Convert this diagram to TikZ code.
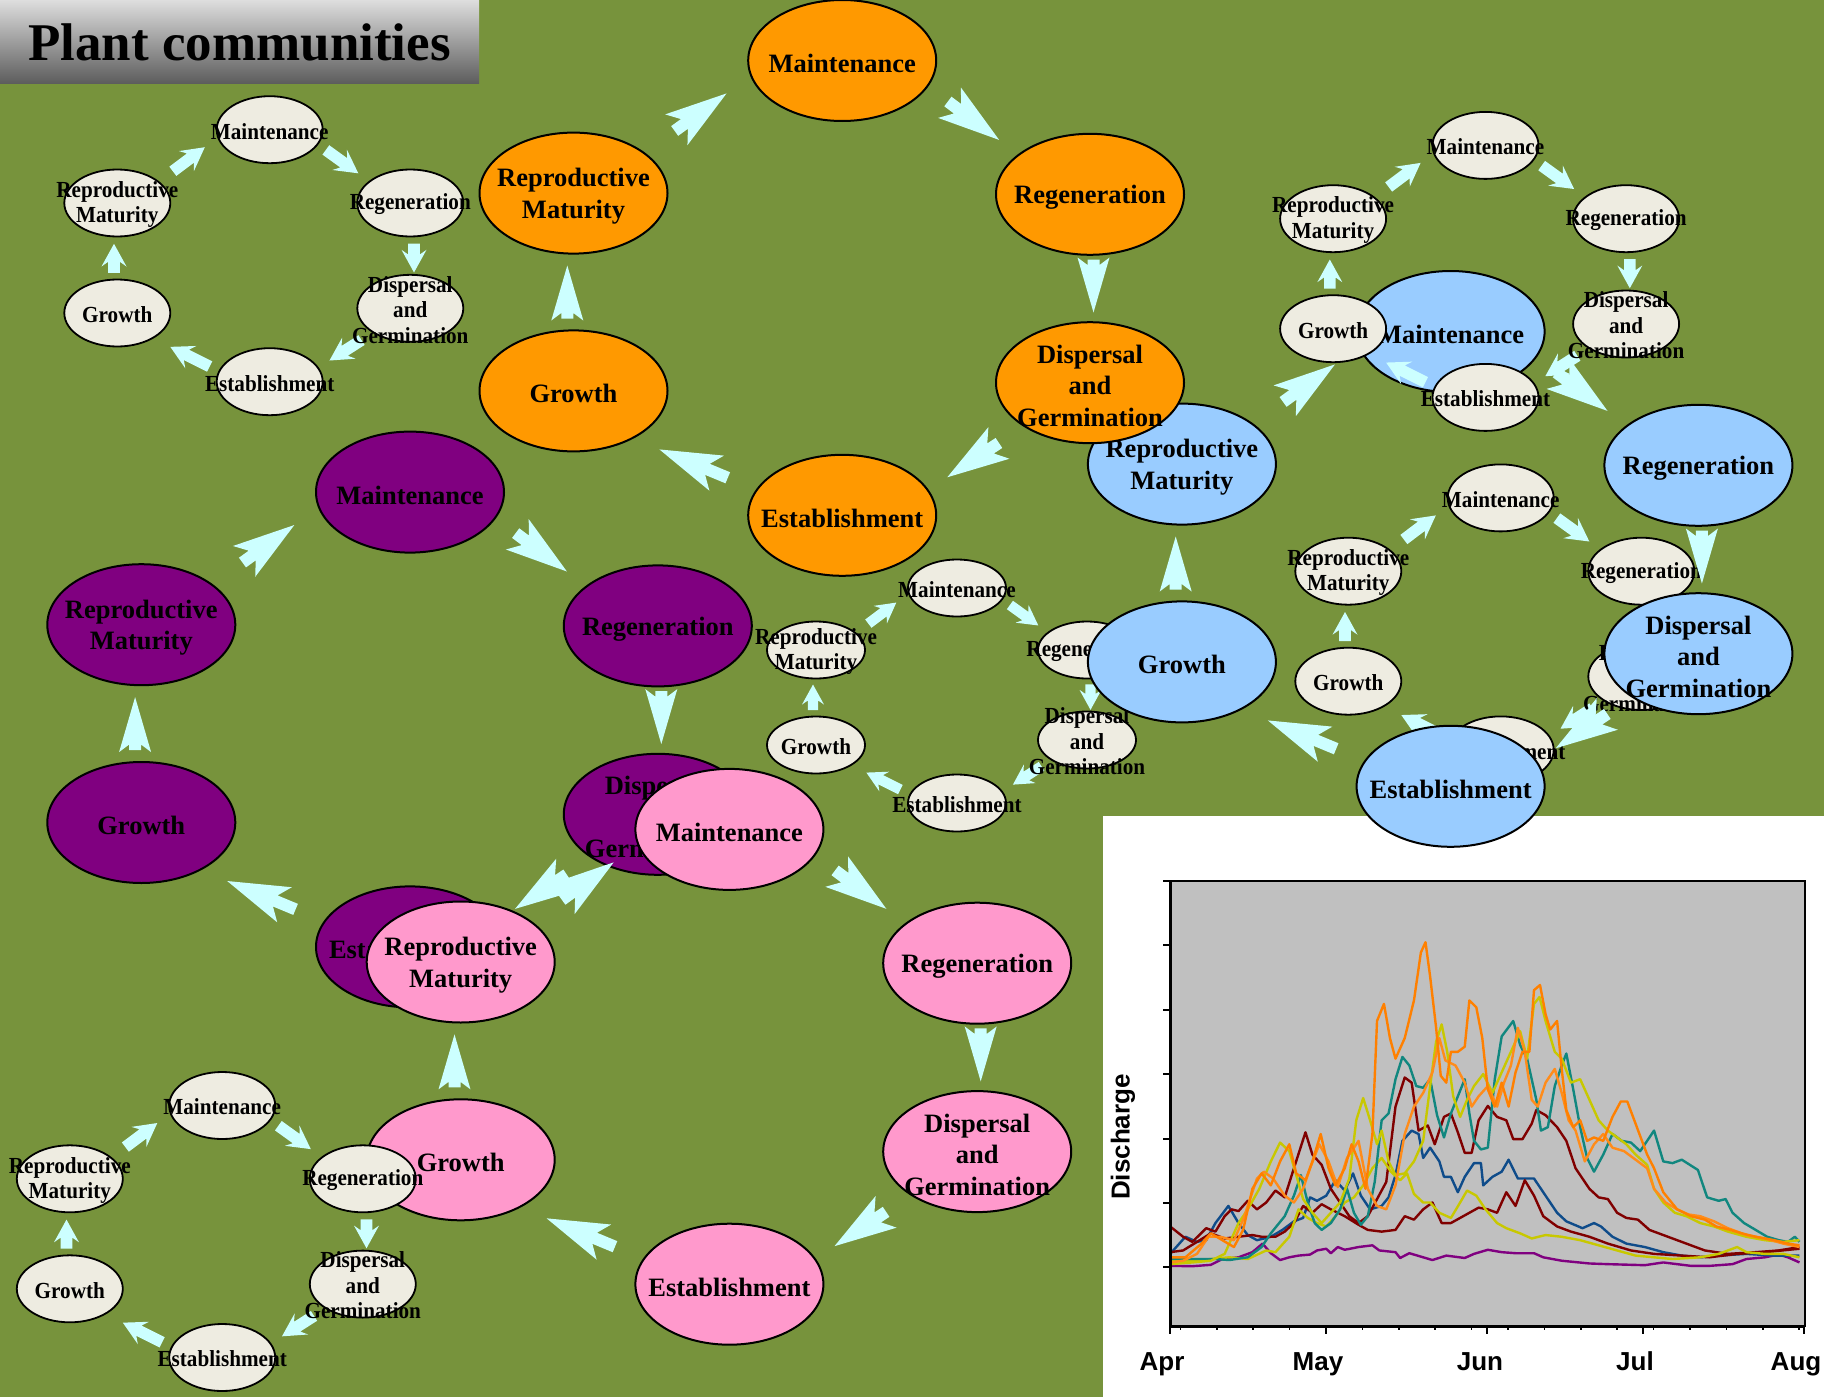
\documentclass[tikz,border=0pt]{standalone}
\usepackage{fontspec}
\setmainfont{Liberation Serif}
\newfontfamily\sfont{Liberation Serif}[FakeStretch=0.92]
\newfontfamily\chartfont{Liberation Sans}
\usetikzlibrary{shapes.geometric,decorations.markings}
\definecolor{bg}{HTML}{77933C}
\definecolor{cream}{HTML}{EEECE1}
\definecolor{arrowcol}{HTML}{CCFFFF}
\definecolor{orangeF}{HTML}{FF9900}
\definecolor{purpleF}{HTML}{800080}
\definecolor{pinkF}{HTML}{FF99CC}
\definecolor{blueF}{HTML}{99CCFF}
\definecolor{plotgray}{HTML}{C0C0C0}
\definecolor{cOrA}{HTML}{FF8000}
\definecolor{cOrB}{HTML}{FF8C1A}
\definecolor{cTeal}{HTML}{11877F}
\definecolor{cRed}{HTML}{800000}
\definecolor{cYel}{HTML}{C8C800}
\definecolor{cBlue}{HTML}{0F4C8A}
\definecolor{cPur}{HTML}{800080}

\tikzset{
  bigell/.style={ellipse, draw=black, line width=2pt, minimum width=188pt, minimum height=121pt, inner sep=0pt},
  bigtxt/.style={font={\fontsize{26.5}{31.5}\selectfont\bfseries}, align=center, inner sep=0pt, yshift=-3pt},
  sell/.style={ellipse, draw=black, line width=1.8pt, fill=cream, minimum width=106pt, minimum height=67pt, inner sep=0pt},
  mell/.style={sell, minimum width=98pt, minimum height=57pt},
  stxt/.style={font={\sfont\fontsize{23}{25.5}\selectfont\bfseries}, align=center, inner sep=0pt, yshift=-1.5pt},
  barr/.style n args={5}{decorate, decoration={markings, mark=at position 0.5 with {\fill[arrowcol] ({#4/2},0) -- ({#4/2-#1},#2) -- ({#4/2-#3},#5) -- ({-#4/2},#5) -- ({-#4/2},{-#5}) -- ({#4/2-#3},{-#5}) -- ({#4/2-#1},{-#2}) -- cycle;}}},
  bigD/.style={barr={62}{19}{52}{#1}{6}},
  bigV/.style={barr={55}{16}{47.5}{53}{6}},
  smD/.style={barr={23}{12.5}{18}{#1}{5.8}},
  smV/.style={barr={22.7}{12.5}{18}{29}{5.8}},
  midD/.style={barr={20}{11}{16}{#1}{5.2}},
  midV/.style={barr={20}{11}{16}{25.5}{5.2}},
  curve/.style={line width=2.4pt, line join=round},
  lbl/.style={font={\chartfont\bfseries\fontsize{26}{30}\selectfont}, inner sep=0pt}
}

\newcommand{\bigcycle}[4]{%
 \node[bigell, fill=#4] (#1m) at (#2,#3) {};
 \node[bigell, fill=#4] (#1r) at ({#2+247.8},{#3+133.8}) {};
 \node[bigell, fill=#4] (#1d) at ({#2+247.8},{#3+322.2}) {};
 \node[bigell, fill=#4] (#1e) at (#2,{#3+454.8}) {};
 \node[bigell, fill=#4] (#1g) at ({#2-268.7},{#3+330.4}) {};
 \node[bigell, fill=#4] (#1p) at ({#2-268.7},{#3+132.6}) {};
 \path[bigD=64] ([shift={(62.3,-34)}]#1p.center) -- ([shift={(-76.8,4.8)}]#1m.center);
 \path[bigD=64] ([shift={(67.3,12.2)}]#1m.center) -- ([shift={(-52.5,-25.6)}]#1r.center);
 \path[bigV] ([shift={(3.5,11.7)}]#1r.center) -- ([shift={(3.5,-16.7)}]#1d.center);
 \path[bigD=62] ([shift={(-50.3,33.1)}]#1d.center) -- ([shift={(64.3,-10.9)}]#1e.center);
 \path[bigD=74] ([shift={(-74.8,-21.1)}]#1e.center) -- ([shift={(46.3,42.1)}]#1g.center);
 \path[bigV] ([shift={(-6.2,-18.9)}]#1g.center) -- ([shift={(-6.2,18.9)}]#1p.center);
 \node[bigtxt] (#1mt) at (#1m) {Maintenance};
 \node[bigtxt] (#1rt) at (#1r) {Regeneration};
 \node[bigtxt] (#1dt) at (#1d) {Dispersal\\and\\Germination};
 \node[bigtxt] (#1et) at (#1e) {Establishment};
 \node[bigtxt] (#1gt) at (#1g) {Growth};
 \node[bigtxt] (#1pt) at (#1p) {Reproductive\\Maturity};
}

\newcommand{\smallcycle}[3]{%
 \node[sell] (#1m) at (#2,#3) {};
 \node[sell] (#1r) at ({#2+140.6},{#3+73.3}) {};
 \node[sell] (#1d) at ({#2+140.6},{#3+178.6}) {};
 \node[sell] (#1e) at (#2,{#3+252}) {};
 \node[sell] (#1g) at ({#2-152.4},{#3+183.3}) {};
 \node[sell] (#1p) at ({#2-152.4},{#3+73.3}) {};
 \path[smD=40] ([shift={(23.7,-7.7)}]#1p.center) -- ([shift={(-32.9,-6.6)}]#1m.center);
 \path[smD=40] ([shift={(23.8,-3.1)}]#1m.center) -- ([shift={(-19.4,-6.2)}]#1r.center);
 \path[smV] ([shift={(3.7,-5)}]#1r.center) -- ([shift={(3.7,9.7)}]#1d.center);
 \path[smD=38] ([shift={(-14.2,9.7)}]#1d.center) -- ([shift={(25.2,0.9)}]#1e.center);
 \path[smD=44] ([shift={(-26.1,1.8)}]#1e.center) -- ([shift={(19.1,16.9)}]#1g.center);
 \path[smV] ([shift={(-3.3,5.3)}]#1g.center) -- ([shift={(-3.3,-4.7)}]#1p.center);
 \node[stxt] (#1mt) at (#1m) {Maintenance};
 \node[stxt] (#1rt) at (#1r) {Regeneration};
 \node[stxt] (#1dt) at (#1d) {Dispersal\\and\\Germination};
 \node[stxt] (#1et) at (#1e) {Establishment};
 \node[stxt] (#1gt) at (#1g) {Growth};
 \node[stxt] (#1pt) at (#1p) {Reproductive\\Maturity};
}

\begin{document}
\begin{tikzpicture}[x=1pt,y=-1pt]
\useasboundingbox (0,0) rectangle (1824,1397);
\fill[bg] (0,0) rectangle (1824,1397);

% title
\shade[top color=black!13, middle color=black!26, bottom color=black!64] (0,0) rectangle (479,84);
\node[font={\fontsize{53}{60}\selectfont\bfseries}, inner sep=0pt] (title) at (239.5,42) {Plant communities};

% chart panel
\fill[white] (1103,816) rectangle (1824,1397);
\fill[plotgray] (1170,881) rectangle (1805,1326);
\begin{scope}
\clip (1170,881) rectangle (1805,1326);
\begin{scope}[shift={(1100,860)}, xscale=0.4617, yscale=0.3425]
\draw[curve, cPur] plot coordinates {(152,1185) (200,1186) (240,1182) (265,1165) (300,1160) (330,1145) (352,1120) (370,1148) (390,1168) (410,1160) (430,1155) (455,1152) (470,1140) (490,1135) (500,1148) (515,1130) (530,1138) (560,1130) (590,1125) (605,1140) (640,1145) (650,1162) (670,1148) (700,1160) (720,1168) (750,1155) (790,1162) (810,1150) (840,1138) (870,1145) (900,1148) (940,1148) (960,1160) (1000,1170) (1060,1178) (1100,1180) (1180,1183) (1220,1175) (1280,1185) (1320,1185) (1370,1180) (1400,1165) (1440,1160) (1470,1152) (1490,1160) (1515,1175)};
\draw[curve, cBlue] plot coordinates {(152,1150) (185,1100) (210,1115) (230,1110) (250,1060) (278,1010) (300,1060) (320,1095) (340,1110) (370,1100) (395,1080) (420,1055) (440,1045) (455,985) (470,995) (490,980) (510,935) (530,965) (548,915) (565,980) (585,1020) (610,1010) (625,985) (640,920) (655,820) (675,790) (690,800) (700,870) (715,840) (735,880) (745,925) (760,925) (775,970) (790,925) (810,885) (825,885) (830,950) (850,925) (870,910) (885,875) (905,930) (940,930) (955,960) (990,1030) (1010,1055) (1045,1075) (1070,1060) (1085,1070) (1110,1100) (1140,1120) (1180,1130) (1220,1145) (1260,1155) (1300,1160) (1340,1155) (1400,1150) (1460,1155) (1515,1155)};
\draw[curve, cRed] plot coordinates {(152,1145) (180,1140) (210,1115) (240,1090) (270,1105) (300,1100) (330,1095) (350,1100) (380,1100) (400,1085) (420,1060) (440,1010) (460,1030) (480,1005) (500,1020) (530,1040) (560,1065) (580,1080) (610,1085) (640,1080) (660,1040) (680,1050) (700,1020) (720,1000) (740,1060) (760,1060) (780,1045) (800,1030) (820,1015) (840,1020) (860,1030) (880,970) (900,1010) (920,935) (940,980) (960,1040) (990,1070) (1020,1085) (1060,1100) (1100,1120) (1150,1140) (1200,1150) (1260,1155) (1320,1160) (1380,1150) (1440,1145) (1515,1135)};
\draw[curve, cRed] plot coordinates {(152,1070) (180,1100) (200,1115) (230,1075) (250,1085) (270,1040) (285,1020) (300,1025) (320,995) (340,1020) (360,1000) (380,965) (400,985) (420,900) (445,795) (460,860) (480,890) (500,960) (520,1000) (540,1040) (560,1060) (580,1040) (600,990) (620,940) (640,720) (660,635) (675,650) (690,790) (710,775) (725,830) (745,750) (760,740) (775,795) (790,855) (805,855) (820,760) (840,718) (860,750) (880,760) (895,815) (915,815) (935,770) (945,730) (965,745) (990,780) (1010,820) (1030,900) (1060,960) (1080,985) (1100,990) (1120,1030) (1140,1045) (1165,1050) (1190,1080) (1230,1100) (1270,1120) (1310,1140) (1360,1150) (1420,1145) (1470,1140) (1515,1130)};
\draw[curve, cYel] plot coordinates {(152,1170) (200,1170) (240,1165) (280,1160) (320,1165) (360,1140) (380,1145) (410,1100) (430,1020) (450,1045) (470,1060) (490,1070) (510,1040) (530,1000) (550,985) (570,950) (590,900) (610,870) (630,910) (650,935) (665,915) (680,975) (700,1000) (715,1000) (735,1030) (760,1045) (780,1000) (795,965) (815,980) (835,1020) (860,1060) (880,1075) (910,1090) (935,1105) (965,1095) (1000,1100) (1040,1110) (1080,1125) (1120,1140) (1160,1155) (1200,1160) (1240,1165) (1300,1160) (1340,1150) (1380,1130) (1400,1145) (1440,1150) (1480,1150) (1515,1160)};
\draw[curve, cTeal] plot coordinates {(152,1165) (200,1165) (250,1165) (280,1168) (320,1160) (350,1130) (370,1090) (400,1040) (420,980) (435,920) (450,1000) (465,1060) (480,1080) (500,1060) (520,1020) (535,960) (550,1030) (565,1065) (580,1040) (595,940) (610,760) (625,740) (640,640) (655,575) (670,600) (685,660) (700,665) (715,640) (730,745) (745,810) (760,740) (775,690) (790,640) (800,740) (810,820) (825,845) (840,840) (855,640) (870,515) (895,470) (910,540) (925,580) (945,700) (955,790) (970,780) (985,660) (1000,600) (1010,565) (1025,670) (1040,780) (1055,870) (1070,910) (1090,860) (1110,800) (1130,820) (1150,825) (1170,850) (1200,790) (1220,880) (1240,885) (1260,875) (1295,905) (1315,985) (1340,995) (1355,990) (1370,1030) (1395,1060) (1420,1080) (1445,1100) (1470,1110) (1490,1115) (1505,1100) (1515,1115)};
\draw[curve, cYel] plot coordinates {(152,1180) (200,1175) (240,1170) (270,1150) (300,1060) (320,1020) (345,960) (370,880) (390,825) (410,850) (425,920) (440,990) (460,1030) (480,1060) (500,1030) (520,1000) (540,930) (555,760) (570,695) (585,760) (600,830) (610,790) (625,880) (640,920) (660,915) (680,880) (700,820) (715,660) (728,530) (740,480) (752,560) (765,690) (780,750) (795,700) (810,660) (830,625) (850,680) (870,620) (890,560) (910,500) (925,580) (940,420) (952,400) (965,470) (985,560) (1000,580) (1020,650) (1040,640) (1060,700) (1080,760) (1100,790) (1120,810) (1140,830) (1160,860) (1185,890) (1200,960) (1220,1000) (1245,1030) (1270,1040) (1300,1060) (1330,1070) (1360,1085) (1400,1100) (1440,1110) (1480,1115) (1515,1110)};
\draw[curve, cOrB] plot coordinates {(152,1175) (180,1170) (210,1150) (235,1100) (260,1100) (290,1110) (310,1050) (340,930) (355,910) (375,930) (400,980) (420,1000) (440,960) (455,900) (475,830) (495,880) (515,955) (535,870) (560,820) (580,960) (600,1010) (620,1020) (640,950) (660,800) (680,720) (700,680) (720,620) (735,520) (748,585) (770,600) (790,650) (805,720) (820,690) (840,660) (860,720) (875,650) (890,600) (905,490) (920,560) (935,700) (948,720) (965,650) (985,610) (1000,680) (1015,760) (1030,790) (1050,880) (1070,830) (1090,800) (1110,840) (1135,850) (1165,880) (1185,900) (1200,960) (1225,1000) (1250,1020) (1275,1035) (1300,1040) (1330,1055) (1360,1075) (1400,1095) (1440,1105) (1480,1120) (1515,1130)};
\draw[curve, cOrA] plot coordinates {(152,1160) (185,1160) (220,1120) (240,1090) (265,1110) (290,1130) (310,1080) (330,960) (350,915) (370,950) (390,880) (410,830) (425,915) (445,935) (460,880) (478,800) (495,900) (510,950) (530,900) (545,830) (560,880) (575,960) (590,800) (600,470) (615,420) (628,520) (640,580) (660,520) (680,410) (695,270) (705,240) (715,340) (728,490) (738,630) (750,650) (760,560) (775,560) (790,545) (800,410) (815,430) (828,520) (840,670) (855,720) (870,650) (885,720) (900,620) (915,560) (930,560) (940,380) (953,365) (965,450) (975,495) (990,470) (1000,610) (1010,730) (1025,780) (1040,760) (1055,820) (1070,810) (1090,820) (1110,750) (1128,705) (1142,705) (1160,770) (1185,860) (1200,900) (1220,970) (1250,1020) (1280,1040) (1310,1050) (1335,1070) (1365,1080) (1390,1090) (1420,1100) (1460,1110) (1490,1120) (1515,1125)};
\end{scope}
\end{scope}
\draw[black, line width=1.5pt] (1170,881) rectangle (1805,1326);
\draw[black, line width=3pt] (1170,881) -- (1170,1326) -- (1805,1326);
\foreach \k in {0,...,6} \draw[black, line width=2pt] (1163,{881+\k*64.4}) -- (1170,{881+\k*64.4});
\foreach \d in {0,30,61,91,122} \draw[black, line width=2pt] ({1170+\d*5.2},1326) -- ({1170+\d*5.2},1334);
\foreach \d in {2,9,...,121} \draw[black, line width=1.5pt] ({1170+\d*5.2},1326) -- ({1170+\d*5.2},1330);
\node[lbl, anchor=base] (xa) at (1162,1370) {Apr};
\node[lbl, anchor=base] (xb) at (1318,1370) {May};
\node[lbl, anchor=base] (xc) at (1480,1370) {Jun};
\node[lbl, anchor=base] (xd) at (1635,1370) {Jul};
\node[lbl, anchor=base] (xe) at (1796,1370) {Aug};
\node[lbl, rotate=90] (ylab) at (1123,1137) {Discharge};

% purple cycle
\bigcycle{p}{410}{492.1}{purpleF}

% middle small cycle
\node[mell] (cm) at (957,588) {};
\node[mell] (cr) at (1087,650) {};
\node[mell] (cd) at (1087,740) {};
\node[mell] (ce) at (957,803) {};
\node[mell] (cg) at (816,745) {};
\node[mell] (cp) at (816,650) {};
\path[midD=35] ([shift={(26.4,-6.8)}]cp.center) -- ([shift={(-34.7,-5)}]cm.center);
\path[midD=35] ([shift={(26.6,-2)}]cm.center) -- ([shift={(-22.3,-5.5)}]cr.center);
\path[midV] ([shift={(3.5,-2.9)}]cr.center) -- ([shift={(3.5,7.1)}]cd.center);
\path[midD=34] ([shift={(-17.7,8.5)}]cd.center) -- ([shift={(28,-0.5)}]ce.center);
\path[midD=38] ([shift={(-29,0.4)}]ce.center) -- ([shift={(22.6,13.7)}]cg.center);
\path[midV] ([shift={(-3,2.3)}]cg.center) -- ([shift={(-3,-2.7)}]cp.center);
\node[stxt] (cmt) at (cm) {Maintenance};
\node[stxt] (crt) at (cr) {Regeneration};
\node[stxt] (cdt) at (cd) {Dispersal\\and\\Germination};
\node[stxt] (cet) at (ce) {Establishment};
\node[stxt] (cgt) at (cg) {Growth};
\node[stxt] (cpt) at (cp) {Reproductive\\Maturity};

% middle-right small cycle
\smallcycle{s}{1500.7}{497.9}

% blue cycle
\bigcycle{b}{1450.6}{331.5}{blueF}

% orange cycle
\bigcycle{o}{842.2}{60.5}{orangeF}

% top-left and top-right small cycles
\smallcycle{a}{269.7}{129.7}
\smallcycle{t}{1485.5}{145.4}

% pink cycle
\bigcycle{k}{729.4}{829.4}{pinkF}

% bottom-left small cycle
\smallcycle{l}{222.2}{1105.5}
\end{tikzpicture}
\end{document}
